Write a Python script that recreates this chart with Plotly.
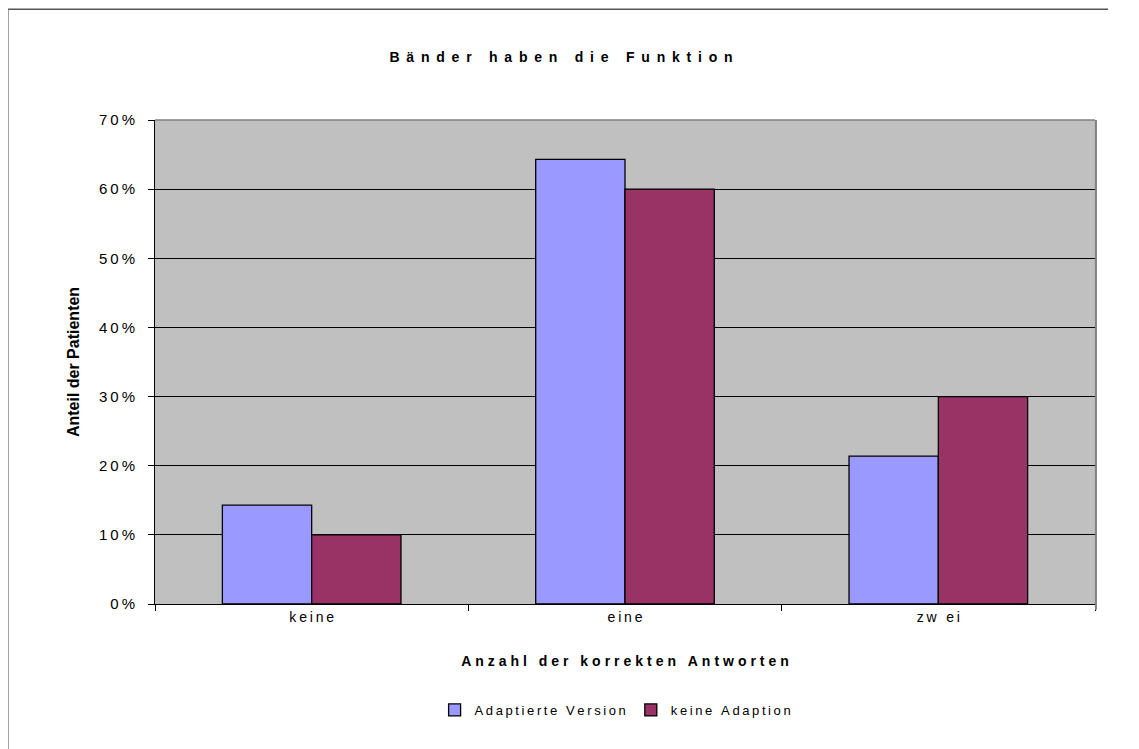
import plotly.graph_objects as go

categories = ["keine", "eine", "zw ei"]
adaptierte = [0.143, 0.643, 0.214]
keine_adaption = [0.10, 0.60, 0.30]
series_names = ["Adaptierte Version", "keine Adaption"]
tick_values = [0, 0.1, 0.2, 0.3, 0.4, 0.5, 0.6, 0.7]
tick_labels = ["0%", "10%", "20%", "30%", "40%", "50%", "60%", "70%"]

FONT = "Liberation Sans, Arial, sans-serif"


def spaced(text, sep="\u2009"):
    return sep.join(text)


fig = go.Figure()
fig.add_trace(
    go.Bar(
        x=categories,
        y=adaptierte,
        name=spaced(series_names[0]),
        marker={"color": "#9999FF", "line": {"color": "#000000", "width": 1.3}},
    )
)
fig.add_trace(
    go.Bar(
        x=categories,
        y=keine_adaption,
        name=spaced(series_names[1]),
        marker={"color": "#993366", "line": {"color": "#000000", "width": 1.3}},
    )
)

# outer chart frame (top and left edge) and plot area shadow edges
fig.add_shape(type="line", xref="paper", yref="paper", x0=-0.1564, x1=1.0138, y0=1.229, y1=1.229,
              line={"color": "#000000", "width": 1})
fig.add_shape(type="line", xref="paper", yref="paper", x0=-0.1564, x1=-0.1564, y0=1.229, y1=-0.32,
              line={"color": "#808080", "width": 1.5})
fig.add_shape(type="line", xref="paper", yref="paper", x0=0, x1=1, y0=1, y1=1,
              line={"color": "#808080", "width": 1.5})
fig.add_shape(type="line", xref="paper", yref="paper", x0=1.001, x1=1.001, y0=-0.012, y1=1,
              line={"color": "#808080", "width": 2})

fig.update_layout(
    width=1139,
    height=749,
    margin={"l": 147, "r": 52, "t": 112, "b": 153},
    paper_bgcolor="#FFFFFF",
    plot_bgcolor="#C0C0C0",
    font={"family": FONT, "size": 14, "color": "#000000"},
    title={
        "text": "<b>" + spaced("Bänder haben die Funktion", "\u2009\u2009\u200a") + "</b>",
        "x": 553 / 1139,
        "xref": "container",
        "xanchor": "center",
        "y": 1 - 49 / 749,
        "yanchor": "middle",
        "font": {"family": FONT, "size": 14, "color": "#000000"},
    },
    barmode="group",
    bargap=0.43,
    bargroupgap=0,
    showlegend=True,
    legend={
        "orientation": "h",
        "x": 0.49,
        "xanchor": "center",
        "y": -0.219,
        "yanchor": "middle",
        "font": {"family": FONT, "size": 13},
        "itemwidth": 30,
        "tracegroupgap": 0,
    },
    xaxis={
        "title": {
            "text": "<b>" + spaced("Anzahl der korrekten Antworten", "\u2009\u200a") + "</b>",
            "font": {"family": FONT, "size": 14},
            "standoff": 32,
        },
        "tickson": "boundaries",
        "ticks": "outside",
        "ticklen": 6,
        "tickcolor": "#000000",
        "tickvals": categories,
        "ticktext": [spaced(c) for c in categories],
        "showline": True,
        "linecolor": "#000000",
        "linewidth": 1,
        "showgrid": False,
        "tickfont": {"family": FONT, "size": 14},
    },
    yaxis={
        "title": {
            "text": "<b>Anteil der Patienten</b>",
            "font": {"family": FONT, "size": 16},
            "standoff": 15,
        },
        "range": [0, 0.7],
        "tickvals": tick_values,
        "ticktext": [spaced(t, "\u2009") for t in tick_labels],
        "ticks": "outside",
        "ticklen": 6,
        "tickcolor": "#000000",
        "ticklabelstandoff": 10,
        "showline": True,
        "linecolor": "#000000",
        "linewidth": 1,
        "showgrid": True,
        "gridcolor": "#000000",
        "gridwidth": 1,
        "zeroline": False,
        "tickfont": {"family": FONT, "size": 15},
    },
)

fig.write_html("out.html")
